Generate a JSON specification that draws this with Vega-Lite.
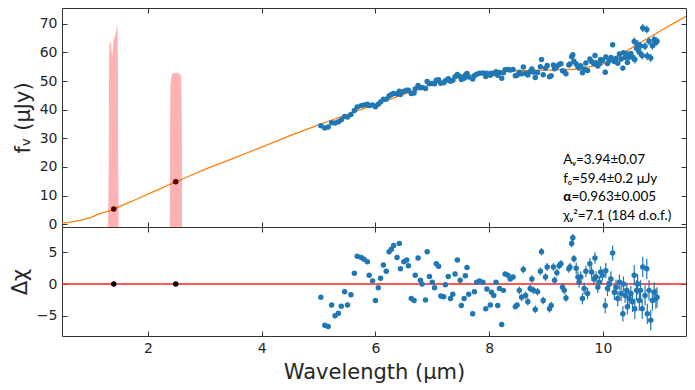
{
  "$schema": "https://vega.github.io/schema/vega-lite/v6.json",
  "padding": {"left": 8, "top": 7, "right": 11, "bottom": 0},
  "spacing": 0,
  "bounds": "flush",
  "datasets": {
    "phot": [{"w": 1.4, "f": 5.3, "r": 0}, {"w": 2.49, "f": 14.8, "r": 0}],
    "notes": [{"n": 1}],
    "model": [
      {"w": 0.49, "f": 0.4}, {"w": 0.6, "f": 0.6}, {"w": 0.7, "f": 0.9}, {"w": 0.8, "f": 1.3}, {"w": 0.9, "f": 1.8},
      {"w": 1.0, "f": 2.4}, {"w": 1.1, "f": 3.2}, {"w": 1.2, "f": 3.9}, {"w": 1.3, "f": 4.5}, {"w": 1.4, "f": 5.2},
      {"w": 1.5, "f": 6.1}, {"w": 1.6, "f": 7.0}, {"w": 1.8, "f": 8.7}, {"w": 2.0, "f": 10.5}, {"w": 2.2, "f": 12.2},
      {"w": 2.5, "f": 14.8}, {"w": 2.75, "f": 17.0}, {"w": 3.0, "f": 19.1}, {"w": 3.5, "f": 23.0}, {"w": 4.0, "f": 26.9},
      {"w": 4.5, "f": 30.9}, {"w": 5.0, "f": 34.7}, {"w": 5.5, "f": 38.3}, {"w": 6.0, "f": 41.8}, {"w": 6.5, "f": 45.3},
      {"w": 7.0, "f": 49.0}, {"w": 7.5, "f": 51.5}, {"w": 8.0, "f": 53.0}, {"w": 8.5, "f": 53.6}, {"w": 9.0, "f": 53.8},
      {"w": 9.5, "f": 54.1}, {"w": 9.75, "f": 54.9}, {"w": 10.0, "f": 55.9}, {"w": 10.25, "f": 58.6}, {"w": 10.5, "f": 61.5},
      {"w": 10.75, "f": 64.5}, {"w": 11.0, "f": 67.4}, {"w": 11.25, "f": 70.2}, {"w": 11.46, "f": 72.6}
    ],
    "filt": [
      {"band": "F140M", "w": 1.300, "t": 0}, {"band": "F140M", "w": 1.312, "t": 20}, {"band": "F140M", "w": 1.318, "t": 58},
      {"band": "F140M", "w": 1.325, "t": 63}, {"band": "F140M", "w": 1.335, "t": 64}, {"band": "F140M", "w": 1.350, "t": 63},
      {"band": "F140M", "w": 1.365, "t": 60}, {"band": "F140M", "w": 1.375, "t": 59}, {"band": "F140M", "w": 1.385, "t": 62},
      {"band": "F140M", "w": 1.395, "t": 64}, {"band": "F140M", "w": 1.410, "t": 65}, {"band": "F140M", "w": 1.425, "t": 66},
      {"band": "F140M", "w": 1.440, "t": 67}, {"band": "F140M", "w": 1.455, "t": 69}, {"band": "F140M", "w": 1.465, "t": 69.5},
      {"band": "F140M", "w": 1.472, "t": 60}, {"band": "F140M", "w": 1.478, "t": 20}, {"band": "F140M", "w": 1.485, "t": 0},
      {"band": "F250M", "w": 2.385, "t": 0}, {"band": "F250M", "w": 2.390, "t": 30}, {"band": "F250M", "w": 2.395, "t": 48},
      {"band": "F250M", "w": 2.410, "t": 51}, {"band": "F250M", "w": 2.430, "t": 52.5}, {"band": "F250M", "w": 2.450, "t": 53},
      {"band": "F250M", "w": 2.470, "t": 52.5}, {"band": "F250M", "w": 2.490, "t": 53}, {"band": "F250M", "w": 2.510, "t": 52.8},
      {"band": "F250M", "w": 2.530, "t": 53}, {"band": "F250M", "w": 2.550, "t": 52.5}, {"band": "F250M", "w": 2.570, "t": 52},
      {"band": "F250M", "w": 2.585, "t": 51.5}, {"band": "F250M", "w": 2.595, "t": 40}, {"band": "F250M", "w": 2.600, "t": 0}
    ],
    "spec": [
      {"w":5.04,"f":34.4,"r":-2.1,"fe":0.25,"re":0.35},{"w":5.11,"f":33.6,"r":-6.5,"fe":0.25,"re":0.35},{"w":5.17,"f":33.9,"r":-6.7,"fe":0.25,"re":0.35},
      {"w":5.23,"f":35.4,"r":-3.3,"fe":0.25,"re":0.35},{"w":5.29,"f":35.3,"r":-5.0,"fe":0.25,"re":0.35},{"w":5.35,"f":35.8,"r":-4.6,"fe":0.25,"re":0.35},
      {"w":5.40,"f":36.5,"r":-3.5,"fe":0.25,"re":0.35},{"w":5.46,"f":37.6,"r":-1.2,"fe":0.25,"re":0.35},{"w":5.51,"f":37.4,"r":-3.3,"fe":0.25,"re":0.35},
      {"w":5.57,"f":38.3,"r":-1.7,"fe":0.25,"re":0.35},{"w":5.63,"f":39.7,"r":1.7,"fe":0.25,"re":0.35},{"w":5.68,"f":40.9,"r":4.4,"fe":0.25,"re":0.35},
      {"w":5.75,"f":41.4,"r":4.2,"fe":0.25,"re":0.35},{"w":5.80,"f":41.6,"r":3.9,"fe":0.25,"re":0.35},{"w":5.86,"f":41.9,"r":3.5,"fe":0.25,"re":0.35},
      {"w":5.89,"f":41.4,"r":1.4,"fe":0.25,"re":0.35},{"w":5.95,"f":41.6,"r":0.5,"fe":0.25,"re":0.35},{"w":6.00,"f":41.0,"r":-2.6,"fe":0.25,"re":0.35},
      {"w":6.05,"f":41.9,"r":-0.6,"fe":0.25,"re":0.35},{"w":6.09,"f":42.7,"r":0.9,"fe":0.25,"re":0.35},{"w":6.14,"f":43.6,"r":3.0,"fe":0.25,"re":0.35},
      {"w":6.19,"f":43.6,"r":2.0,"fe":0.25,"re":0.35},{"w":6.24,"f":44.8,"r":5.1,"fe":0.25,"re":0.35},{"w":6.28,"f":45.3,"r":5.5,"fe":0.25,"re":0.35},
      {"w":6.32,"f":45.6,"r":6.1,"fe":0.25,"re":0.35},{"w":6.38,"f":45.5,"r":4.2,"fe":0.25,"re":0.35},{"w":6.42,"f":46.4,"r":6.4,"fe":0.25,"re":0.35},
      {"w":6.44,"f":45.3,"r":2.4,"fe":0.25,"re":0.35},{"w":6.50,"f":46.4,"r":3.5,"fe":0.25,"re":0.35},{"w":6.55,"f":46.8,"r":3.8,"fe":0.25,"re":0.35},
      {"w":6.58,"f":46.8,"r":2.9,"fe":0.25,"re":0.35},{"w":6.63,"f":45.6,"r":-2.3,"fe":0.25,"re":0.35},{"w":6.68,"f":45.8,"r":-2.6,"fe":0.25,"re":0.35},
      {"w":6.70,"f":47.2,"r":1.4,"fe":0.25,"re":0.35},{"w":6.75,"f":48.4,"r":4.1,"fe":0.25,"re":0.35},{"w":6.79,"f":47.6,"r":0.6,"fe":0.25,"re":0.35},
      {"w":6.82,"f":47.7,"r":0.0,"fe":0.25,"re":0.35},{"w":6.88,"f":47.4,"r":-2.5,"fe":0.25,"re":0.35},{"w":6.91,"f":49.8,"r":5.1,"fe":0.25,"re":0.35},
      {"w":6.95,"f":49.0,"r":1.2,"fe":0.25,"re":0.35},{"w":7.00,"f":49.1,"r":0.3,"fe":0.25,"re":0.35},{"w":7.04,"f":49.0,"r":-0.6,"fe":0.25,"re":0.35},
      {"w":7.07,"f":50.3,"r":3.2,"fe":0.25,"re":0.35},{"w":7.11,"f":50.4,"r":2.8,"fe":0.25,"re":0.35},{"w":7.15,"f":49.2,"r":-1.9,"fe":0.25,"re":0.35},
      {"w":7.20,"f":49.4,"r":-2.0,"fe":0.25,"re":0.35},{"w":7.23,"f":50.1,"r":-0.1,"fe":0.25,"re":0.35},{"w":7.28,"f":50.8,"r":1.2,"fe":0.25,"re":0.35},
      {"w":7.32,"f":49.9,"r":-2.3,"fe":0.25,"re":0.35},{"w":7.36,"f":50.3,"r":-1.6,"fe":0.25,"re":0.35},{"w":7.40,"f":51.5,"r":1.6,"fe":0.25,"re":0.35},
      {"w":7.44,"f":52.3,"r":3.8,"fe":0.25,"re":0.35},{"w":7.49,"f":51.6,"r":0.6,"fe":0.25,"re":0.35},{"w":7.51,"f":50.5,"r":-3.4,"fe":0.25,"re":0.35},
      {"w":7.56,"f":51.0,"r":-2.3,"fe":0.25,"re":0.35},{"w":7.58,"f":52.1,"r":1.3,"fe":0.25,"re":0.35},{"w":7.61,"f":52.6,"r":2.6,"fe":0.25,"re":0.35},
      {"w":7.64,"f":51.4,"r":-1.6,"fe":0.25,"re":0.35},{"w":7.71,"f":50.7,"r":-4.7,"fe":0.25,"re":0.35},{"w":7.74,"f":51.8,"r":-1.2,"fe":0.25,"re":0.35},
      {"w":7.78,"f":52.4,"r":0.3,"fe":0.25,"re":0.35},{"w":7.83,"f":52.7,"r":0.5,"fe":0.25,"re":0.35},{"w":7.89,"f":52.8,"r":0.3,"fe":0.25,"re":0.35},
      {"w":7.94,"f":51.6,"r":-3.9,"fe":0.25,"re":0.35},{"w":7.96,"f":52.7,"r":-0.8,"fe":0.25,"re":0.35},{"w":8.02,"f":52.0,"r":-3.3,"fe":0.25,"re":0.35},
      {"w":8.04,"f":52.7,"r":-1.3,"fe":0.25,"re":0.35},{"w":8.08,"f":52.6,"r":-1.8,"fe":0.25,"re":0.35},{"w":8.12,"f":53.2,"r":0.3,"fe":0.25,"re":0.35},
      {"w":8.15,"f":52.0,"r":-3.4,"fe":0.25,"re":0.35},{"w":8.18,"f":53.0,"r":-0.7,"fe":0.25,"re":0.35},{"w":8.22,"f":51.0,"r":-6.4,"fe":0.25,"re":0.35},
      {"w":8.25,"f":52.9,"r":-1.0,"fe":0.25,"re":0.35},{"w":8.28,"f":53.9,"r":1.6,"fe":0.25,"re":0.35},{"w":8.33,"f":54.0,"r":1.4,"fe":0.25,"re":0.35},
      {"w":8.37,"f":53.8,"r":0.8,"fe":0.25,"re":0.35},{"w":8.42,"f":54.0,"r":1.1,"fe":0.25,"re":0.35},{"w":8.46,"f":51.8,"r":-3.6,"fe":0.25,"re":0.35},
      {"w":8.49,"f":52.0,"r":-3.3,"fe":0.25,"re":0.35},{"w":8.53,"f":53.1,"r":-1.0,"fe":0.25,"re":0.6},{"w":8.57,"f":52.5,"r":-2.1,"fe":0.25,"re":0.6},
      {"w":8.60,"f":54.9,"r":2.3,"fe":0.25,"re":0.6},{"w":8.64,"f":52.7,"r":-1.8,"fe":0.25,"re":0.6},{"w":8.68,"f":52.1,"r":-2.8,"fe":0.25,"re":0.6},
      {"w":8.72,"f":53.3,"r":-0.7,"fe":0.25,"re":0.6},{"w":8.75,"f":54.2,"r":0.8,"fe":0.25,"re":0.6},{"w":8.78,"f":53.1,"r":-1.0,"fe":0.25,"re":0.6},
      {"w":8.81,"f":51.2,"r":-4.0,"fe":0.25,"re":0.6},{"w":8.85,"f":53.0,"r":-1.2,"fe":0.25,"re":0.6},{"w":8.90,"f":55.0,"r":2.0,"fe":0.25,"re":0.6},
      {"w":8.92,"f":57.5,"r":5.1,"fe":0.25,"re":0.6},{"w":8.95,"f":52.2,"r":-2.6,"fe":0.25,"re":0.6},{"w":8.99,"f":54.5,"r":1.1,"fe":0.25,"re":0.6},
      {"w":9.02,"f":55.4,"r":2.7,"fe":0.5,"re":0.6},{"w":9.06,"f":51.5,"r":-3.9,"fe":0.5,"re":0.6},{"w":9.09,"f":51.8,"r":-3.4,"fe":0.5,"re":0.6},
      {"w":9.13,"f":55.6,"r":2.7,"fe":0.5,"re":0.6},{"w":9.15,"f":54.3,"r":0.6,"fe":0.5,"re":0.6},{"w":9.19,"f":55.1,"r":1.8,"fe":0.5,"re":0.6},
      {"w":9.23,"f":55.8,"r":2.9,"fe":0.5,"re":0.6},{"w":9.26,"f":56.0,"r":3.2,"fe":0.5,"re":0.6},{"w":9.29,"f":53.6,"r":-0.5,"fe":0.5,"re":0.6},
      {"w":9.32,"f":53.3,"r":-1.0,"fe":0.5,"re":0.6},{"w":9.35,"f":52.5,"r":-2.2,"fe":0.5,"re":0.6},{"w":9.40,"f":55.6,"r":2.4,"fe":0.5,"re":0.6},
      {"w":9.42,"f":55.9,"r":2.7,"fe":0.5,"re":0.6},{"w":9.45,"f":58.5,"r":6.4,"fe":0.5,"re":0.6},{"w":9.47,"f":59.2,"r":7.3,"fe":0.5,"re":0.6},
      {"w":9.49,"f":56.9,"r":4.0,"fe":0.5,"re":0.6},{"w":9.53,"f":55.9,"r":2.5,"fe":0.5,"re":0.9},{"w":9.56,"f":55.1,"r":1.1,"fe":0.5,"re":0.9},
      {"w":9.58,"f":54.5,"r":0.3,"fe":0.5,"re":0.9},{"w":9.61,"f":55.3,"r":1.1,"fe":0.5,"re":0.9},{"w":9.64,"f":52.9,"r":-2.3,"fe":0.5,"re":0.9},
      {"w":9.67,"f":54.2,"r":-0.7,"fe":0.5,"re":0.9},{"w":9.70,"f":56.3,"r":2.0,"fe":0.5,"re":0.9},{"w":9.73,"f":53.7,"r":-1.5,"fe":0.5,"re":0.9},
      {"w":9.77,"f":57.7,"r":3.2,"fe":0.5,"re":0.9},{"w":9.80,"f":56.8,"r":1.9,"fe":0.5,"re":0.9},{"w":9.84,"f":56.0,"r":0.8,"fe":0.5,"re":0.9},
      {"w":9.86,"f":58.9,"r":4.1,"fe":0.5,"re":0.9},{"w":9.88,"f":56.4,"r":1.1,"fe":0.5,"re":0.9},{"w":9.91,"f":55.2,"r":-0.5,"fe":0.5,"re":0.9},
      {"w":9.94,"f":56.0,"r":0.3,"fe":0.5,"re":0.9},{"w":9.96,"f":57.5,"r":1.9,"fe":0.5,"re":0.9},{"w":9.99,"f":57.2,"r":1.4,"fe":0.5,"re":0.9},
      {"w":10.04,"f":53.1,"r":-3.4,"fe":0.9,"re":1.2},{"w":10.05,"f":58.4,"r":2.1,"fe":0.9,"re":1.2},{"w":10.08,"f":56.1,"r":-0.7,"fe":0.9,"re":1.2},
      {"w":10.11,"f":57.1,"r":0.0,"fe":0.9,"re":1.2},{"w":10.14,"f":58.2,"r":0.8,"fe":0.9,"re":1.2},{"w":10.17,"f":62.7,"r":4.9,"fe":0.9,"re":1.2},
      {"w":10.20,"f":56.8,"r":-1.3,"fe":0.9,"re":1.2},{"w":10.23,"f":57.9,"r":-0.5,"fe":0.9,"re":1.2},{"w":10.26,"f":56.2,"r":-2.3,"fe":0.9,"re":1.2},
      {"w":10.29,"f":59.4,"r":0.3,"fe":0.9,"re":1.2},{"w":10.32,"f":57.7,"r":-1.5,"fe":0.9,"re":1.2},{"w":10.35,"f":54.5,"r":-4.7,"fe":0.9,"re":1.2},
      {"w":10.36,"f":59.9,"r":0.0,"fe":0.9,"re":1.2},{"w":10.39,"f":58.2,"r":-1.8,"fe":0.9,"re":1.2},{"w":10.42,"f":59.4,"r":-1.0,"fe":0.9,"re":1.2},
      {"w":10.43,"f":56.5,"r":-3.6,"fe":0.9,"re":1.2},{"w":10.46,"f":58.3,"r":-2.3,"fe":0.9,"re":1.2},{"w":10.49,"f":59.6,"r":-1.5,"fe":0.9,"re":1.2},
      {"w":10.52,"f":58.3,"r":-2.8,"fe":1.4,"re":1.6},{"w":10.55,"f":63.8,"r":1.4,"fe":1.4,"re":1.6},{"w":10.56,"f":57.5,"r":-3.9,"fe":1.4,"re":1.6},
      {"w":10.59,"f":61.4,"r":-1.0,"fe":1.4,"re":1.6},{"w":10.61,"f":62.8,"r":0.0,"fe":1.4,"re":1.6},{"w":10.64,"f":60.0,"r":-2.6,"fe":1.4,"re":1.6},
      {"w":10.66,"f":62.2,"r":-1.0,"fe":1.4,"re":1.6},{"w":10.69,"f":58.9,"r":-3.9,"fe":1.4,"re":1.6},{"w":10.70,"f":68.5,"r":2.7,"fe":1.4,"re":1.6},
      {"w":10.74,"f":62.1,"r":-1.8,"fe":1.4,"re":1.6},{"w":10.77,"f":68.0,"r":2.4,"fe":1.4,"re":1.6},{"w":10.78,"f":58.7,"r":-4.7,"fe":1.4,"re":1.6},
      {"w":10.81,"f":63.9,"r":-1.0,"fe":1.4,"re":1.6},{"w":10.84,"f":58.0,"r":-5.7,"fe":1.4,"re":1.6},{"w":10.87,"f":62.3,"r":-2.6,"fe":1.4,"re":1.6},
      {"w":10.90,"f":64.5,"r":-1.3,"fe":1.4,"re":1.6},{"w":10.93,"f":63.5,"r":-2.3,"fe":1.4,"re":1.6},{"w":10.95,"f":63.9,"r":-2.1,"fe":1.4,"re":1.6}
    ]
  },
  "vconcat": [
    {
      "width": 624,
      "height": 219,
      "resolve": {"axis": {"x": "independent", "y": "independent"}},
      "layer": [
        {
          "data": {"name": "model"},
          "mark": {"type": "line", "color": "#ff7f0e", "strokeWidth": 1.3, "clip": true},
          "encoding": {
            "x": {"field": "w", "type": "quantitative", "scale": {"domain": [0.49, 11.46], "nice": false, "zero": false},
                  "axis": {"values": [2, 4, 6, 8, 10], "labels": false, "title": null, "labelPadding": 0, "minExtent": 0, "maxExtent": 0}},
            "y": {"field": "f", "type": "quantitative", "scale": {"domain": [-1, 75.5], "nice": false, "zero": false},
                  "axis": {"values": [0, 10, 20, 30, 40, 50, 60, 70], "title": "fᵥ (μJy)"}}
          }
        },
        {
          "data": {"name": "phot"},
          "mark": {"type": "point", "filled": true, "color": "#000000", "size": 30, "opacity": 1},
          "encoding": {
            "x": {"field": "w", "type": "quantitative", "axis": null},
            "y": {"field": "f", "type": "quantitative", "axis": null}
          }
        },
        {
          "data": {"name": "filt"},
          "mark": {"type": "area", "color": "#ff0000", "opacity": 0.3, "clip": true},
          "encoding": {
            "x": {"field": "w", "type": "quantitative", "axis": null},
            "y": {"field": "t", "type": "quantitative", "axis": null},
            "y2": {"datum": -1},
            "detail": {"field": "band"}
          }
        },
        {
          "data": {"name": "spec"},
          "mark": {"type": "errorbar", "color": "#1f77b4", "thickness": 1.2},
          "encoding": {
            "x": {"field": "w", "type": "quantitative", "axis": null},
            "y": {"field": "f", "type": "quantitative", "axis": null},
            "yError": {"field": "fe"}
          }
        },
        {
          "data": {"name": "spec"},
          "mark": {"type": "point", "filled": true, "color": "#1f77b4", "size": 30, "opacity": 1},
          "encoding": {
            "x": {"field": "w", "type": "quantitative", "axis": null},
            "y": {"field": "f", "type": "quantitative", "axis": null}
          }
        },
        {
          "data": {"name": "notes"},
          "mark": {"type": "text", "text": "Aᵥ=3.94±0.07", "align": "left", "baseline": "middle", "font": "Lato", "fontSize": 13.5, "color": "#000000"},
          "encoding": {
            "x": {"datum": 9.3, "type": "quantitative", "axis": null},
            "y": {"datum": 22.4, "type": "quantitative", "axis": null}
          }
        },
        {
          "data": {"name": "notes"},
          "mark": {"type": "text", "text": "fₒ=59.4±0.2 μJy", "align": "left", "baseline": "middle", "font": "Lato", "fontSize": 13.5, "color": "#000000"},
          "encoding": {
            "x": {"datum": 9.3, "type": "quantitative", "axis": null},
            "y": {"datum": 15.8, "type": "quantitative", "axis": null}
          }
        },
        {
          "data": {"name": "notes"},
          "mark": {"type": "text", "text": "α", "align": "left", "baseline": "middle", "font": "Lato", "fontSize": 13.5, "fontWeight": "bold", "color": "#000000"},
          "encoding": {
            "x": {"datum": 9.3, "type": "quantitative", "axis": null},
            "y": {"datum": 9.35, "type": "quantitative", "axis": null}
          }
        },
        {
          "data": {"name": "notes"},
          "mark": {"type": "text", "text": "=0.963±0.005", "align": "left", "baseline": "middle", "font": "Lato", "fontSize": 13.5, "color": "#000000"},
          "encoding": {
            "x": {"datum": 9.445, "type": "quantitative", "axis": null},
            "y": {"datum": 9.35, "type": "quantitative", "axis": null}
          }
        },
        {
          "data": {"name": "notes"},
          "mark": {"type": "text", "text": "χᵥ²=7.1 (184 d.o.f.)", "align": "left", "baseline": "middle", "font": "Lato", "fontSize": 13.5, "color": "#000000"},
          "encoding": {
            "x": {"datum": 9.3, "type": "quantitative", "axis": null},
            "y": {"datum": 2.95, "type": "quantitative", "axis": null}
          }
        },
        {
          "data": {"name": "phot"},
          "mark": {"type": "point", "opacity": 0},
          "encoding": {
            "x": {"field": "w", "type": "quantitative", "axis": {"orient": "top", "values": [2, 4, 6, 8, 10], "labels": false, "title": null, "labelPadding": 0, "minExtent": 0, "maxExtent": 0}},
            "y": {"field": "f", "type": "quantitative", "axis": {"orient": "right", "values": [0, 10, 20, 30, 40, 50, 60, 70], "labels": false, "title": null, "labelPadding": 0, "minExtent": 0, "maxExtent": 0}}
          }
        }
      ]
    },
    {
      "width": 624,
      "height": 109,
      "resolve": {"axis": {"x": "independent", "y": "independent"}},
      "layer": [
        {
          "data": {"name": "notes"},
          "mark": {"type": "rule", "color": "#ff2020", "strokeWidth": 1.6},
          "encoding": {
            "y": {"datum": 0, "type": "quantitative", "scale": {"domain": [-8.2, 9.0], "nice": false, "zero": false},
                  "axis": {"values": [-5, 0, 5], "title": "Δχ"}}
          }
        },
        {
          "data": {"name": "phot"},
          "mark": {"type": "point", "filled": true, "color": "#000000", "size": 30, "opacity": 1},
          "encoding": {
            "x": {"field": "w", "type": "quantitative", "scale": {"domain": [0.49, 11.46], "nice": false, "zero": false},
                  "axis": {"values": [2, 4, 6, 8, 10], "title": "Wavelength (μm)"}},
            "y": {"field": "r", "type": "quantitative", "axis": null}
          }
        },
        {
          "data": {"name": "spec"},
          "mark": {"type": "errorbar", "color": "#1f77b4", "thickness": 1.2},
          "encoding": {
            "x": {"field": "w", "type": "quantitative", "axis": null},
            "y": {"field": "r", "type": "quantitative", "axis": null},
            "yError": {"field": "re"}
          }
        },
        {
          "data": {"name": "spec"},
          "mark": {"type": "point", "filled": true, "color": "#1f77b4", "size": 30, "opacity": 1},
          "encoding": {
            "x": {"field": "w", "type": "quantitative", "axis": null},
            "y": {"field": "r", "type": "quantitative", "axis": null}
          }
        },
        {
          "data": {"name": "phot"},
          "mark": {"type": "point", "opacity": 0},
          "encoding": {
            "x": {"field": "w", "type": "quantitative", "axis": {"orient": "top", "values": [2, 4, 6, 8, 10], "labels": false, "title": null, "labelPadding": 0, "minExtent": 0, "maxExtent": 0}},
            "y": {"field": "r", "type": "quantitative", "axis": {"orient": "right", "values": [-5, 0, 5], "labels": false, "title": null, "labelPadding": 0, "minExtent": 0, "maxExtent": 0}}
          }
        }
      ]
    }
  ],
  "config": {
    "font": "DejaVu Sans",
    "view": {"stroke": "#333333", "strokeWidth": 1},
    "axis": {
      "domain": false,
      "grid": false,
      "tickSize": -5,
      "tickColor": "#333333",
      "tickWidth": 1,
      "labelFont": "DejaVu Sans",
      "labelFontSize": 14,
      "labelColor": "#262626",
      "labelPadding": 10,
      "titleFont": "DejaVu Sans",
      "titleFontSize": 21,
      "titleFontWeight": "normal",
      "titleColor": "#262626",
      "titlePadding": 6
    }
  }
}
